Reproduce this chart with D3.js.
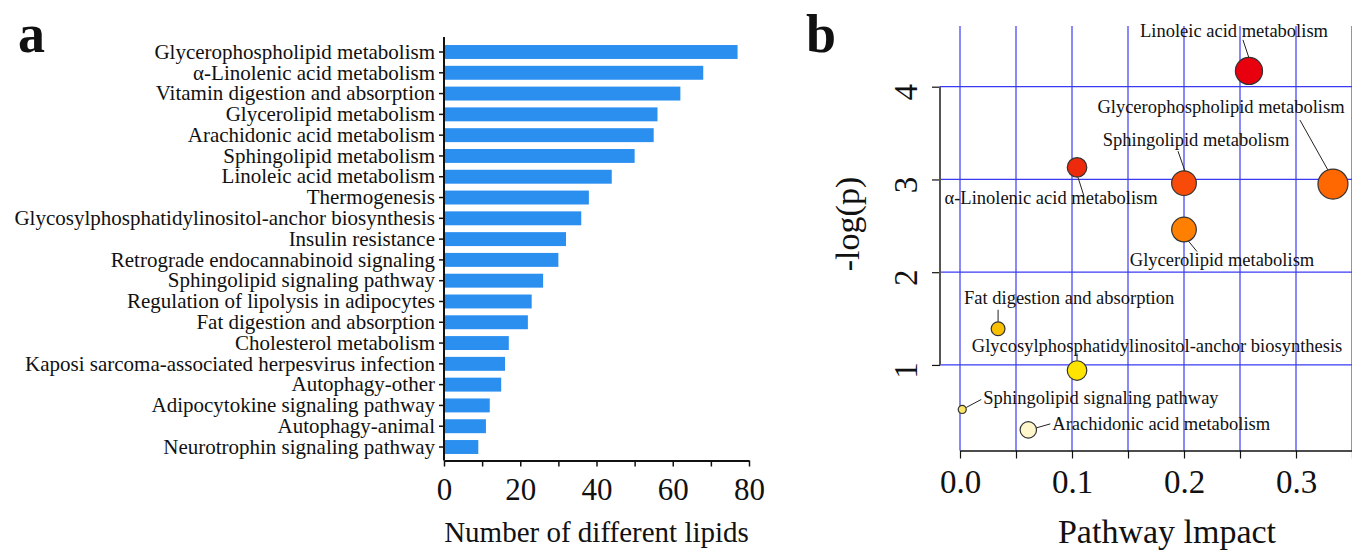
<!DOCTYPE html>
<html>
<head>
<meta charset="utf-8">
<script src="https://cdn.jsdelivr.net/npm/d3@7/dist/d3.min.js"></script>
<style>
  body { margin: 0; background: #fff; }
  svg text { font-family: "Liberation Serif", "Times New Roman", serif; fill: #111; }
  .tick line, .domain { stroke: #111; }
</style>
</head>
<body>
<div id="chart"></div>
<script>
// ---- panel a data
const categories = [
  'Glycerophospholipid metabolism', '\u03b1-Linolenic acid metabolism',
  'Vitamin digestion and absorption', 'Glycerolipid metabolism',
  'Arachidonic acid metabolism', 'Sphingolipid metabolism',
  'Linoleic acid metabolism', 'Thermogenesis',
  'Glycosylphosphatidylinositol-anchor biosynthesis', 'Insulin resistance',
  'Retrograde endocannabinoid signaling', 'Sphingolipid signaling pathway',
  'Regulation of lipolysis in adipocytes', 'Fat digestion and absorption',
  'Cholesterol metabolism', 'Kaposi sarcoma-associated herpesvirus infection',
  'Autophagy-other', 'Adipocytokine signaling pathway',
  'Autophagy-animal', 'Neurotrophin signaling pathway'
];
const lipidCounts = [77, 68, 62, 56, 55, 50, 44, 38, 36, 32, 30, 26, 23, 22, 17, 16, 15, 12, 11, 9];
const countTicks = [0, 20, 40, 60, 80];

// ---- panel b data
const pathways = [
  'Linoleic acid metabolism', 'Glycerophospholipid metabolism',
  'Sphingolipid metabolism', '\u03b1-Linolenic acid metabolism',
  'Glycerolipid metabolism', 'Fat digestion and absorption',
  'Glycosylphosphatidylinositol-anchor biosynthesis',
  'Sphingolipid signaling pathway', 'Arachidonic acid metabolism'
];
const impact = [0.258, 0.333, 0.200, 0.1045, 0.200, 0.034, 0.1045, 0.002, 0.061];
const negLogP = [4.17, 2.95, 2.96, 3.13, 2.46, 1.39, 0.94, 0.52, 0.30];
const impactTicks = [0.0, 0.1, 0.2, 0.3];
const pTicks = [1, 2, 3, 4];

const W = 1352, H = 551;
const svg = d3.select('#chart').append('svg')
  .attr('width', W).attr('height', H);

// ================= panel a =================
const xA = d3.scaleLinear().domain([0, 80]).range([444, 749]);
const yA = d3.scaleBand().domain(categories).range([41.6, 457.4])
  .paddingInner(0.33).paddingOuter(0.165);
const axisYA = 460.5;

svg.append('text')
  .attr('x', 18).attr('y', 52)
  .style('font-size', '54px').style('font-weight', 'bold')
  .text('a');

svg.append('g').selectAll('rect')
  .data(lipidCounts)
  .enter().append('rect')
  .attr('x', xA(0))
  .attr('y', (d, i) => yA(categories[i]))
  .attr('width', d => xA(d) - xA(0))
  .attr('height', yA.bandwidth())
  .attr('fill', '#2b8ff0');

const yAxisA = svg.append('g')
  .attr('transform', 'translate(' + xA(0) + ',0)')
  .call(d3.axisLeft(yA).tickSize(5).tickSizeOuter(0).tickPadding(4));
yAxisA.select('.domain').remove();
yAxisA.selectAll('text').style('font-size', '21px');
yAxisA.selectAll('.tick line').attr('stroke-width', 1.5);

svg.append('line')
  .attr('x1', xA(0)).attr('x2', xA(0))
  .attr('y1', 37).attr('y2', axisYA)
  .attr('stroke', '#111').attr('stroke-width', 2);

const xAxisA = svg.append('g')
  .attr('transform', 'translate(0,' + axisYA + ')')
  .call(d3.axisBottom(xA).tickValues(d3.range(0, 81, 10)).tickSize(6)
    .tickSizeOuter(0).tickPadding(11)
    .tickFormat(d => countTicks.includes(d) ? d : ''));
xAxisA.select('.domain').attr('stroke-width', 2);
xAxisA.selectAll('.tick line').attr('stroke-width', 1.5);
xAxisA.selectAll('text').style('font-size', '31px');

svg.append('text')
  .attr('x', (xA(0) + xA(80)) / 2).attr('y', 542)
  .attr('text-anchor', 'middle')
  .style('font-size', '29px')
  .text('Number of different lipids');

// ================= panel b =================
const xB = d3.scaleLinear().domain([0, 0.35]).range([960, 1352]);
const yB = d3.scaleLinear().domain([0, 4]).range([457.7, 86.7]);
const rB = d3.scalePow().exponent(0.5).domain([0, 0.333]).range([3.1, 15]);
const plotLeft = 940, plotTop = 26, plotBottom = 450.5;

svg.append('text')
  .attr('x', 806).attr('y', 52)
  .style('font-size', '54px').style('font-weight', 'bold')
  .text('b');

// grid
svg.append('g').selectAll('line')
  .data(d3.range(0, 0.351, 0.05))
  .enter().append('line')
  .attr('x1', d => xB(d)).attr('x2', d => xB(d))
  .attr('y1', plotTop).attr('y2', plotBottom)
  .attr('stroke', '#3a3af5').attr('stroke-width', 1.2);
svg.append('g').selectAll('line')
  .data(pTicks)
  .enter().append('line')
  .attr('x1', plotLeft).attr('x2', W)
  .attr('y1', d => yB(d)).attr('y2', d => yB(d))
  .attr('stroke', '#3a3af5').attr('stroke-width', 1.2);

// axes (R style, domain spans only the ticks)
const yAxisB = svg.append('g')
  .attr('transform', 'translate(' + plotLeft + ',0)')
  .call(d3.axisLeft(yB).tickValues(pTicks).tickSize(8).tickSizeOuter(0)
    .tickFormat(d3.format('d')));
yAxisB.select('.domain').remove();
yAxisB.selectAll('.tick line').attr('stroke', '#555').attr('stroke-width', 1.2);
yAxisB.selectAll('text')
  .attr('x', 0).attr('dy', 0)
  .attr('text-anchor', 'middle')
  .attr('transform', 'translate(-23,5) rotate(-90)')
  .style('font-size', '33px');
svg.append('line')
  .attr('x1', plotLeft).attr('x2', plotLeft)
  .attr('y1', yB(4)).attr('y2', yB(1))
  .attr('stroke', '#555').attr('stroke-width', 2);

const xAxisB = svg.append('g')
  .attr('transform', 'translate(0,' + plotBottom + ')')
  .call(d3.axisBottom(xB).tickValues(d3.range(0, 0.351, 0.05)).tickSize(8)
    .tickSizeOuter(0).tickPadding(11)
    .tickFormat((d, i) => i % 2 === 0 ? d3.format('.1f')(d) : ''));
xAxisB.select('.domain').attr('stroke', '#333').attr('stroke-width', 1.5);
xAxisB.selectAll('.tick line').attr('stroke', '#333').attr('stroke-width', 1.2);
xAxisB.selectAll('text').style('font-size', '33px');

svg.append('text')
  .attr('transform', 'translate(859,' + 224 + ') rotate(-90)')
  .attr('text-anchor', 'middle')
  .style('font-size', '34px')
  .text('-log(p)');
svg.append('text')
  .attr('x', 1167).attr('y', 543)
  .attr('text-anchor', 'middle')
  .style('font-size', '34px')
  .text('Pathway lmpact');

// colour by significance rank: red (most) -> pale yellow (least)
const order = d3.range(negLogP.length).sort((a, b) => negLogP[b] - negLogP[a]);
const rank = [];
order.forEach((k, r) => { rank[k] = r; });
const heat = d3.scaleLinear()
  .domain(d3.range(9))
  .range(['#e8000f', '#ee2a0c', '#f84a08', '#ff6800', '#ff8000',
          '#f8c000', '#ffe400', '#fbe46a', '#fff6cc']);

// label placement relative to each point: text offset, anchor, leader line
const labelLayout = {
  'Linoleic acid metabolism': { dx: -15, dy: -34, a: 'middle', l: [-6, -31, 0, -13] },
  'Glycerophospholipid metabolism': { dx: -112, dy: -71, a: 'middle', l: [-33, -64, -5, -14] },
  'Sphingolipid metabolism': { dx: 12, dy: -37, a: 'middle', l: [-6, -32, 1, -12] },
  '\u03b1-Linolenic acid metabolism': { dx: -26, dy: 37, a: 'middle', l: [1, 10, 7, 29] },
  'Glycerolipid metabolism': { dx: 38, dy: 36, a: 'middle', l: [4, 11, 13, 22] },
  'Fat digestion and absorption': { dx: 71, dy: -25, a: 'middle', l: [0, -19, 0, -7] },
  'Glycosylphosphatidylinositol-anchor biosynthesis': { dx: 80, dy: -19, a: 'middle', l: [0, -17, 0, -10] },
  'Sphingolipid signaling pathway': { dx: 21, dy: -5, a: 'start', l: [4, -2, 19, -10] },
  'Arachidonic acid metabolism': { dx: 24, dy: 0, a: 'start', l: [8, -2, 22, -6] }
};

const pts = svg.append('g').selectAll('g.pt')
  .data(pathways)
  .enter().append('g')
  .attr('class', 'pt')
  .attr('transform', (d, i) => 'translate(' + xB(impact[i]) + ',' + yB(negLogP[i]) + ')');

pts.append('line')
  .attr('x1', d => labelLayout[d].l[0]).attr('y1', d => labelLayout[d].l[1])
  .attr('x2', d => labelLayout[d].l[2]).attr('y2', d => labelLayout[d].l[3])
  .attr('stroke', '#222').attr('stroke-width', 1);

pts.append('circle')
  .attr('r', (d, i) => rB(impact[i]))
  .attr('fill', (d, i) => heat(rank[i]))
  .attr('stroke', '#333').attr('stroke-width', 1.2);

pts.append('text')
  .attr('x', d => labelLayout[d].dx)
  .attr('y', d => labelLayout[d].dy)
  .attr('text-anchor', d => labelLayout[d].a)
  .style('font-size', '18.5px')
  .text(d => d);
</script>
</body>
</html>
